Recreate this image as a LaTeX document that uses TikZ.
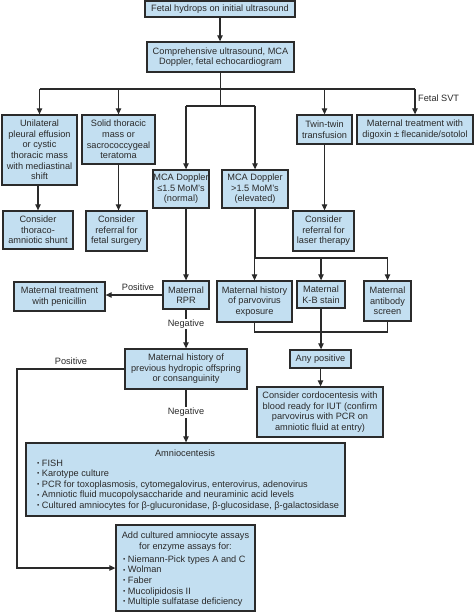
\documentclass[tikz,border=0pt]{standalone}
\usepackage{fontspec}
\setmainfont{Liberation Sans}
\usetikzlibrary{arrows.meta}
\definecolor{boxfill}{HTML}{C3DFF1}
\definecolor{boxline}{HTML}{2B2B2B}
\definecolor{inkc}{HTML}{2A2A2A}
\tikzset{
  bx/.style={draw=boxline, fill=boxfill, line width=1.3pt, align=center, inner sep=0pt,
    font=\fontsize{9.2}{10.6}\selectfont, text=inkc},
  wire/.style={line width=1.2pt, draw=inkc},
  arr/.style={wire, -{Triangle[length=6pt,width=5.5pt]}},
  lbl/.style={font=\fontsize{9.2}{10.6}\selectfont, inner sep=1pt, text=inkc},
}
\newcommand\BX[6]{\node[bx, minimum width={(#4-#2)*1pt}, minimum height={(#5-#3)*1pt}]
  (#1) at ({(#2+#4)/2},{(#3+#5)/2}) {#6};}
\newcommand\bul{{\fontsize{6.5}{6.5}\selectfont\raisebox{0.9pt}{•}}\hspace{2.5pt}}
\begin{document}
\begin{tikzpicture}[x=1pt,y=-1pt]
\useasboundingbox[fill=white] (0,0) rectangle (474,612);
\BX{A}{145}{1}{295}{17}{Fetal hydrops on initial ultrasound}
\BX{B}{147}{42}{294}{72}{Comprehensive ultrasound, MCA\\Doppler, fetal echocardiogram}
\BX{C}{2}{115}{77}{185}{Unilateral\\pleural effusion\\or cystic\\thoracic mass\\with mediastinal\\shift}
\BX{D}{82}{115}{155}{164}{Solid thoracic\\mass or\\sacrococcygeal\\teratoma}
\BX{E}{297}{115}{352}{144}{Twin-twin\\transfusion}
\BX{F}{357}{115}{473}{144}{Maternal treatment with\\digoxin ± flecanide/sotolol}
\BX{G}{153}{170}{209}{208}{MCA Doppler\\≤1.5 MoM’s\\(normal)}
\BX{H}{222}{170}{288}{208}{MCA Doppler\\>1.5 MoM’s\\(elevated)}
\BX{I}{3}{211}{73}{249}{Consider\\thoraco-\\amniotic shunt}
\BX{J}{86}{211}{147}{251}{Consider\\referral for\\fetal surgery}
\BX{K}{293}{211}{354}{251}{Consider\\referral for\\laser therapy}
\BX{L}{14}{282}{105}{311}{Maternal treatment\\with penicillin}
\BX{M}{163}{281}{209}{309}{Maternal\\RPR}
\BX{N}{217}{281}{292}{322}{Maternal history\\of parvovirus\\exposure}
\BX{O}{297}{281}{345}{308}{Maternal\\K-B stain}
\BX{P}{364}{281}{411}{321}{Maternal\\antibody\\screen}
\BX{Q}{290}{350}{351}{368}{Any positive}
\BX{R}{257}{387}{383}{437}{Consider cordocentesis with\\blood ready for IUT (confirm\\parvovirus with PCR on\\amniotic fluid at entry)}
\BX{S}{125}{349}{247}{389}{Maternal history of\\previous hydropic offspring\\or consanguinity}
\BX{T}{26}{443}{345}{516}{}
\BX{U}{116}{525}{255}{611}{}
\node[lbl] (Tt) at (185,453.5) {Amniocentesis};
\node[lbl, anchor=north west, align=left] (Tl) at (36,458.5) {\bul FISH\\\bul Karotype culture\\\bul PCR for toxoplasmosis, cytomegalovirus, enterovirus, adenovirus\\\bul Amniotic fluid mucopolysaccharide and neuraminic acid levels\\\bul Cultured amniocytes for β-glucuronidase, β-glucosidase, β-galactosidase};
\node[lbl, align=center] (Ut) at (185.5,541.5) {Add cultured amniocyte assays\\for enzyme assays for:};
\node[lbl, anchor=north west, align=left] (Ul) at (122,554.5) {\bul Niemann-Pick types A and C\\\bul Wolman\\\bul Faber\\\bul Mucolipidosis II\\\bul Multiple sulfatase deficiency};
% connectors
\coordinate (b1) at (220,89);
\coordinate (b2) at (186,106);
\coordinate (b3) at (255,258);
\coordinate (b4) at (255,332);
\coordinate (c1) at (17,369);
\draw[arr] (A.south) -- (A.south |- B.north);
\draw[wire] (B.south) -- (B.south |- b2);
\draw[wire] (C.north |- b1) -- (F.north |- b1);
\draw[arr] (C.north |- b1) -- (C.north);
\draw[arr] (D.north |- b1) -- (D.north);
\draw[arr] (E.north |- b1) -- (E.north);
\draw[arr] (F.north |- b1) -- (F.north);
\node[lbl, anchor=west] (svt) at (417,98) {Fetal SVT};
\draw[wire] (b2) -- (H.north |- b2);
\draw[arr] (b2) -- (b2 |- G.north);
\draw[arr] (H.north |- b2) -- (H.north);
\draw[arr] (I.north |- C.south) -- (I.north);
\draw[arr] (D.south) -- (D.south |- J.north);
\draw[arr] (E.south) -- (E.south |- K.north);
\draw[arr] (b2 |- G.south) -- (M.north);
\draw[wire] (H.south) -- (H.south |- b3) -- (P.north |- b3);
\draw[arr] (N.north |- b3) -- (N.north);
\draw[arr] (O.north |- b3) -- (O.north);
\draw[arr] (P.north |- b3) -- (P.north);
\draw[wire] (N.south) -- (N.south |- b4) -- (P.south |- b4) -- (P.south);
\draw[arr] (O.south) -- (O.south |- Q.north);
\draw[arr] (Q.south) -- (Q.south |- R.north);
\draw[arr] (M.west) -- (M.west -| L.east);
\node[lbl] (pos1) at (138,287) {Positive};
\draw[arr] (M.south) -- (M.south |- S.north) node[lbl, fill=white, pos=0.375] (neg1) {Negative};
\draw[arr] (M.south |- S.south) -- (M.south |- T.north) node[lbl, fill=white, pos=0.43] (neg2) {Negative};
\draw[arr] (S.west |- c1) -- (c1) -- (c1 |- U.west) -- (U.west);
\node[lbl] (pos2) at (71,361) {Positive};
\end{tikzpicture}
\end{document}
